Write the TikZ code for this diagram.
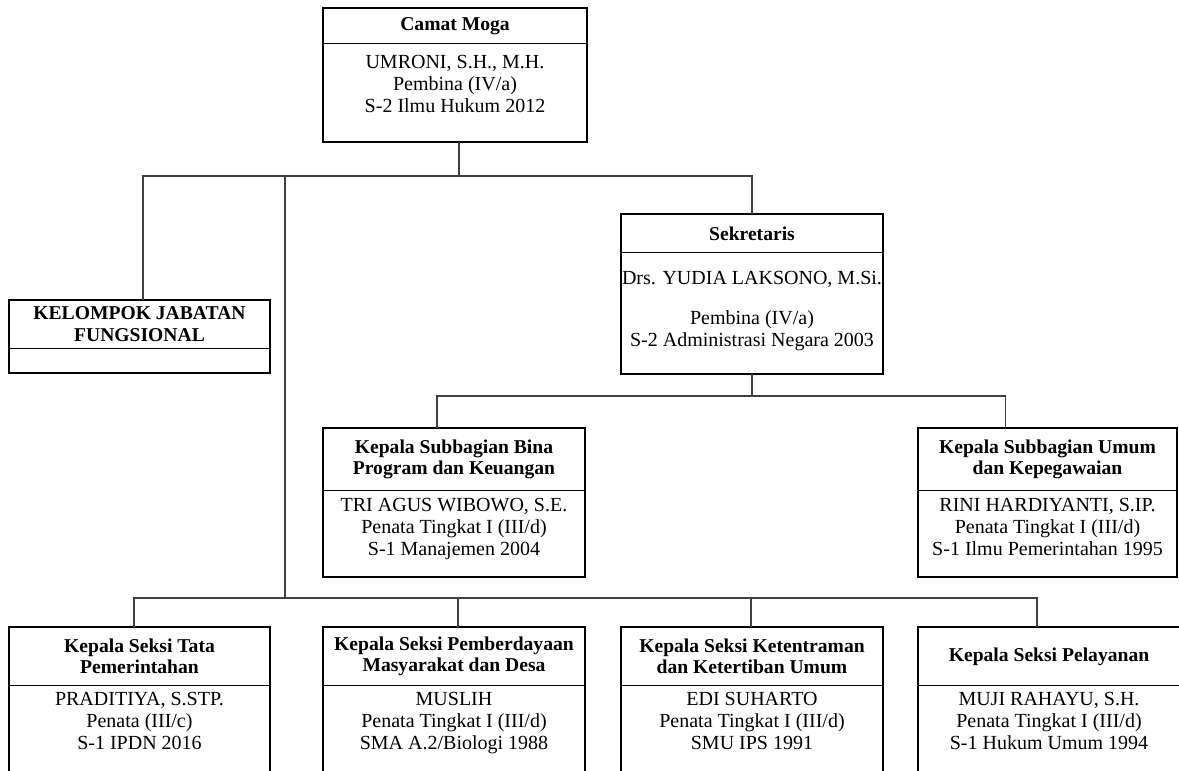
\documentclass[tikz,border=0pt]{standalone}
\usepackage{fontspec}
\setmainfont{Liberation Serif}
\usepackage{tikz}
\usetikzlibrary{positioning,calc}

\tikzset{
  unitbox/.style={draw, line width=1pt, inner sep=0pt, outer sep=0pt},
  headtext/.style={align=center, inner sep=0pt, font=\fontsize{9.8}{10.8}\selectfont\bfseries},
  bodytext/.style={align=center, inner sep=0pt, font=\fontsize{10}{10.9}\selectfont},
  link/.style={line width=0.6pt, black!75},
}

\newcommand{\orgunit}[9]{% name, centre x, top y, width, height, header height, body gap, header, body
  \node[unitbox, minimum width={#4*0.5pt}, minimum height={#5*0.5pt}, anchor=north] (#1) at (#2,#3) {};
  \node[headtext, minimum height={#6*0.5pt}, anchor=north] (#1-head) at (#1.north) {#8};
  \draw[line width=0.6pt] (#1.west |- #1-head.south) -- (#1.east |- #1-head.south);
  \node[bodytext, anchor=north] (#1-body) at ($(#1-head.south)+(0,#7)$) {#9};
}

\begin{document}
\begin{tikzpicture}[x=0.5pt,y=-0.5pt]
\useasboundingbox (0,0) rectangle (1179,771);
\clip (0,0) rectangle (1179,771);

% camat
\orgunit{camat}{455}{8}{264}{134}{35}{11}{Camat Moga}{UMRONI, S.H., M.H.\\Pembina (IV/a)\\S-2 Ilmu Hukum 2012}

% kelompok jabatan fungsional and sekretaris
\orgunit{kjf}{139.5}{300}{261}{73}{48}{0}{KELOMPOK JABATAN\\FUNGSIONAL}{}
\orgunit{sek}{752}{214}{262}{160}{38}{18}{Sekretaris}{Drs. YUDIA LAKSONO, M.Si.\\[9pt]Pembina (IV/a)\\S-2 Administrasi Negara 2003}

% subbagian
\orgunit{suba}{454}{428}{262}{149}{62}{7}{Kepala Subbagian Bina\\Program dan Keuangan}{TRI AGUS WIBOWO, S.E.\\Penata Tingkat I (III/d)\\S-1 Manajemen 2004}
\orgunit{subb}{1047.5}{428}{259}{149}{62}{7}{Kepala Subbagian Umum\\dan Kepegawaian}{RINI HARDIYANTI, S.IP.\\Penata Tingkat I (III/d)\\S-1 Ilmu Pemerintahan 1995}

% seksi row (runs off the bottom)
\orgunit{seksi1}{139.5}{627}{261}{170}{58}{6}{Kepala Seksi Tata\\Pemerintahan}{PRADITIYA, S.STP.\\Penata (III/c)\\S-1 IPDN 2016}
\orgunit{seksi2}{454}{627}{262}{170}{58}{6}{Kepala Seksi Pemberdayaan\\Masyarakat dan Desa}{MUSLIH\\Penata Tingkat I (III/d)\\SMA A.2/Biologi 1988}
\orgunit{seksi3}{752}{627}{262}{170}{58}{6}{Kepala Seksi Ketentraman\\dan Ketertiban Umum}{EDI SUHARTO\\Penata Tingkat I (III/d)\\SMU IPS 1991}
\orgunit{seksi4}{1049}{627}{262}{170}{58}{6}{Kepala Seksi Pelayanan}{MUJI RAHAYU, S.H.\\Penata Tingkat I (III/d)\\S-1 Hukum Umum 1994}

% lines from the camat
\coordinate (topbus) at ($(camat.south)+(4,34)$);
\coordinate (spinetop) at (285,176);
\draw[link] ($(camat.south)+(4,0)$) -- (topbus);
\draw[link] ($(kjf.north)+(3.5,0)$) |- (topbus) -| (sek.north);

% sekretaris to the subbagian
\coordinate (sekbus) at ($(sek.south)+(0,22)$);
\draw[link] (sek.south) -- (sekbus);
\draw[link] ($(suba.north)+(-17,0)$) |- (sekbus) -| ($(subb.north)+(-42,0)$);

% spine down to the seksi row
\coordinate (botbus) at ($(seksi2.north)+(4,-29)$);
\draw[link] (spinetop) -- (spinetop |- botbus);
\draw[link] ($(seksi1.north)+(-5.5,0)$) |- (botbus) -| ($(seksi4.north)+(-12,0)$);
\draw[link] (botbus) -- ($(seksi2.north)+(4,0)$);
\draw[link] ($(seksi3.north)+(-1,-29)$) -- ($(seksi3.north)+(-1,0)$);

\end{tikzpicture}
\end{document}
